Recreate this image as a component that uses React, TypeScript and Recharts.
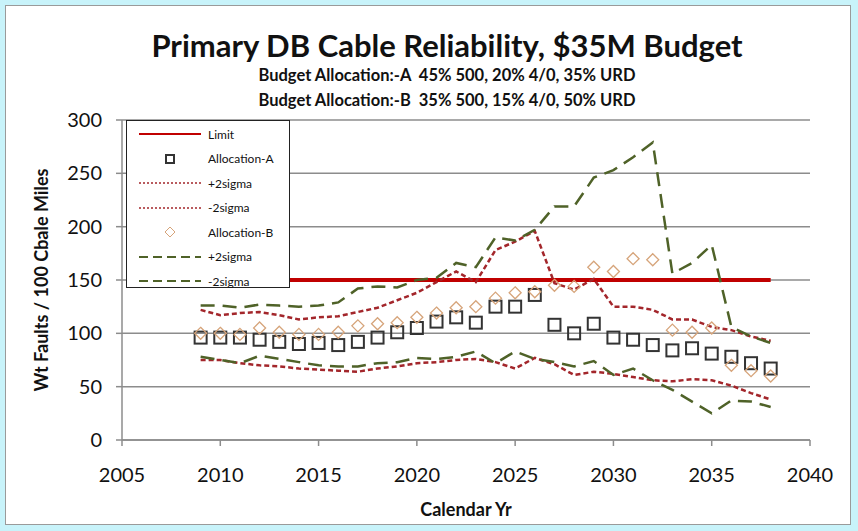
import { LineChart, Line, XAxis, YAxis, CartesianGrid, Legend } from 'recharts';

const years = [
  2009, 2010, 2011, 2012, 2013, 2014, 2015, 2016, 2017, 2018,
  2019, 2020, 2021, 2022, 2023, 2024, 2025, 2026, 2027, 2028,
  2029, 2030, 2031, 2032, 2033, 2034, 2035, 2036, 2037, 2038,
];
const limitLevel = 150;
const allocA = [96, 96, 96, 94, 92, 90, 91, 89, 92, 96, 101, 105, 111, 115, 110, 125, 125, 136, 108, 100, 109, 96, 94, 89, 84, 86, 81, 78, 72, 67];
const allocAHi = [122, 117, 119, 120, 117, 113, 115, 116, 120, 124, 131, 138, 148, 158, 148, 178, 186, 196, 147, 141, 151, 125, 125, 122, 113, 113, 106, 103, 97, 93];
const allocALo = [75, 75, 72, 70, 69, 67, 66, 65, 64, 67, 69, 72, 73, 75, 76, 73, 67, 77, 71, 61, 64, 62, 59, 56, 55, 57, 56, 51, 44, 38];
const allocB = [100, 100, 99, 105, 101, 99, 99, 101, 107, 109, 110, 115, 119, 124, 125, 133, 138, 139, 145, 144, 162, 158, 170, 169, 103, 101, 105, 70, 65, 60];
const allocBHi = [126, 126, 124, 127, 126, 125, 126, 129, 142, 144, 143, 150, 152, 166, 162, 190, 187, 197, 219, 219, 246, 253, 265, 279, 156, 166, 183, 106, 97, 91];
const allocBLo = [78, 75, 72, 79, 76, 73, 70, 69, 69, 72, 73, 77, 76, 78, 83, 72, 83, 76, 73, 69, 74, 61, 67, 56, 47, 36, 25, 37, 36, 31];
const xTicks = [2005, 2010, 2015, 2020, 2025, 2030, 2035, 2040];
const yTicks = [0, 50, 100, 150, 200, 250, 300];

const data = years.map((year, i) => ({
  year,
  limit: limitLevel,
  a: allocA[i],
  aHi: allocAHi[i],
  aLo: allocALo[i],
  b: allocB[i],
  bHi: allocBHi[i],
  bLo: allocBLo[i],
}));

const RED = '#c00000';
const DARK_RED = '#a3262b';
const GREEN = '#4f6228';
const TAN = '#d6a47a';
const FONT = 'Lato, "Open Sans", sans-serif';

const SquareDot = (props: any) => {
  const { cx, cy, index } = props;
  if (cx == null || cy == null) return null;
  return <rect key={`sq-${index}`} x={cx - 6} y={cy - 6} width={12} height={12} fill="none" stroke="#333" strokeWidth={2} />;
};

const DiamondDot = (props: any) => {
  const { cx, cy, index } = props;
  if (cx == null || cy == null) return null;
  return (
    <polygon
      key={`dm-${index}`}
      points={`${cx},${cy - 6} ${cx + 6},${cy} ${cx},${cy + 6} ${cx - 6},${cy}`}
      fill="none"
      stroke={TAN}
      strokeWidth={1.3}
    />
  );
};

const legendItems = [
  { label: 'Limit', kind: 'line', color: RED, dash: '', width: 2 },
  { label: 'Allocation-A', kind: 'square', color: '#333', dash: '', width: 2 },
  { label: '+2sigma', kind: 'line', color: DARK_RED, dash: '2 2', width: 1.5 },
  { label: '-2sigma', kind: 'line', color: DARK_RED, dash: '2 2', width: 1.5 },
  { label: 'Allocation-B', kind: 'diamond', color: TAN, dash: '', width: 1 },
  { label: '+2sigma', kind: 'line', color: GREEN, dash: '9 5', width: 2 },
  { label: '-2sigma', kind: 'line', color: GREEN, dash: '9 5', width: 2 },
];

const renderLegend = () => (
  <div
    style={{
      width: 164,
      height: 168,
      border: '1.5px solid #222',
      background: '#fff',
      boxSizing: 'border-box',
      paddingTop: 1,
    }}
  >
    {legendItems.map((item, i) => (
      <div key={i} style={{ display: 'flex', alignItems: 'center', height: 24.5 }}>
        <svg width={74} height={12} style={{ marginLeft: 6 }}>
          {item.kind === 'line' && (
            <line x1={6} y1={6} x2={68} y2={6} stroke={item.color} strokeWidth={item.width} strokeDasharray={item.dash} />
          )}
          {item.kind === 'square' && (
            <rect x={33} y={2} width={8} height={8} fill="none" stroke={item.color} strokeWidth={item.width} />
          )}
          {item.kind === 'diamond' && (
            <polygon points="37,1 42,6 37,11 32,6" fill="none" stroke={item.color} strokeWidth={item.width} />
          )}
        </svg>
        <span style={{ fontFamily: FONT, fontSize: 12, color: '#111', marginLeft: 1 }}>{item.label}</span>
      </div>
    ))}
  </div>
);

export default function App() {
  return (
    <div style={{ position: 'absolute', left: 0, top: 0, width: 858, height: 531, background: '#c8f3fa' }}>
      <div
        style={{
          position: 'absolute',
          left: 5,
          top: 5,
          width: 846,
          height: 520,
          background: '#fff',
          border: '1.5px solid #9a9a9a',
          boxSizing: 'border-box',
        }}
      />
      <div
        style={{
          position: 'absolute',
          left: 0,
          top: 26,
          width: 894,
          textAlign: 'center',
          fontFamily: FONT,
          fontWeight: 700,
          fontSize: 31,
          color: '#111',
        }}
      >
        Primary DB Cable Reliability, $35M Budget
      </div>
      <div
        style={{
          position: 'absolute',
          left: 0,
          top: 63,
          width: 894,
          textAlign: 'center',
          fontFamily: FONT,
          fontWeight: 700,
          fontSize: 16.5,
          lineHeight: '25px',
          color: '#111',
          whiteSpace: 'pre',
        }}
      >
        {'Budget Allocation:-A  45% 500, 20% 4/0, 35% URD\nBudget Allocation:-B  35% 500, 15% 4/0, 50% URD'}
      </div>
      <div style={{ position: 'absolute', left: 0, top: 0 }}>
        <LineChart width={858} height={531} data={data} margin={{ top: 120, right: 48, left: 10, bottom: 9 }}>
          <CartesianGrid vertical={false} stroke="#8c8c8c" strokeWidth={1.5} />
          <XAxis
            type="number"
            dataKey="year"
            domain={[2005, 2040]}
            ticks={xTicks}
            height={82}
            stroke="#8c8c8c"
            strokeWidth={1.5}
            tickSize={6}
            tickMargin={22}
            tick={{ fill: '#111', fontSize: 20, fontFamily: FONT }}
            label={{
              value: 'Calendar Yr',
              position: 'insideBottom',
              offset: 6,
              style: { fill: '#111', fontSize: 18, fontWeight: 700, fontFamily: FONT },
            }}
          />
          <YAxis
            type="number"
            domain={[0, 300]}
            ticks={yTicks}
            width={112}
            stroke="#8c8c8c"
            strokeWidth={1.5}
            tickSize={6}
            tickMargin={14}
            tick={{ fill: '#111', fontSize: 20, fontFamily: FONT }}
            label={{
              value: 'Wt Faults / 100 Cbale Miles',
              angle: -90,
              position: 'insideLeft',
              offset: 32,
              style: { textAnchor: 'middle', fill: '#111', fontSize: 18, fontWeight: 700, fontFamily: FONT },
            }}
          />
          <Legend
            layout="horizontal"
            verticalAlign="middle"
            align="center"
            content={renderLegend}
            wrapperStyle={{ position: 'absolute', left: 126, top: 120, width: 164, height: 168 }}
          />
          <Line dataKey="limit" stroke={RED} strokeWidth={4} dot={false} activeDot={false} isAnimationActive={false} />
          <Line dataKey="a" stroke="none" dot={SquareDot} activeDot={false} isAnimationActive={false} />
          <Line dataKey="aHi" stroke={DARK_RED} strokeWidth={2.5} strokeDasharray="5 3" dot={false} activeDot={false} isAnimationActive={false} />
          <Line dataKey="aLo" stroke={DARK_RED} strokeWidth={2.5} strokeDasharray="5 3" dot={false} activeDot={false} isAnimationActive={false} />
          <Line dataKey="b" stroke="none" dot={DiamondDot} activeDot={false} isAnimationActive={false} />
          <Line dataKey="bHi" stroke={GREEN} strokeWidth={2.5} strokeDasharray="14 8" dot={false} activeDot={false} isAnimationActive={false} />
          <Line dataKey="bLo" stroke={GREEN} strokeWidth={2.5} strokeDasharray="14 8" dot={false} activeDot={false} isAnimationActive={false} />
        </LineChart>
      </div>
    </div>
  );
}
